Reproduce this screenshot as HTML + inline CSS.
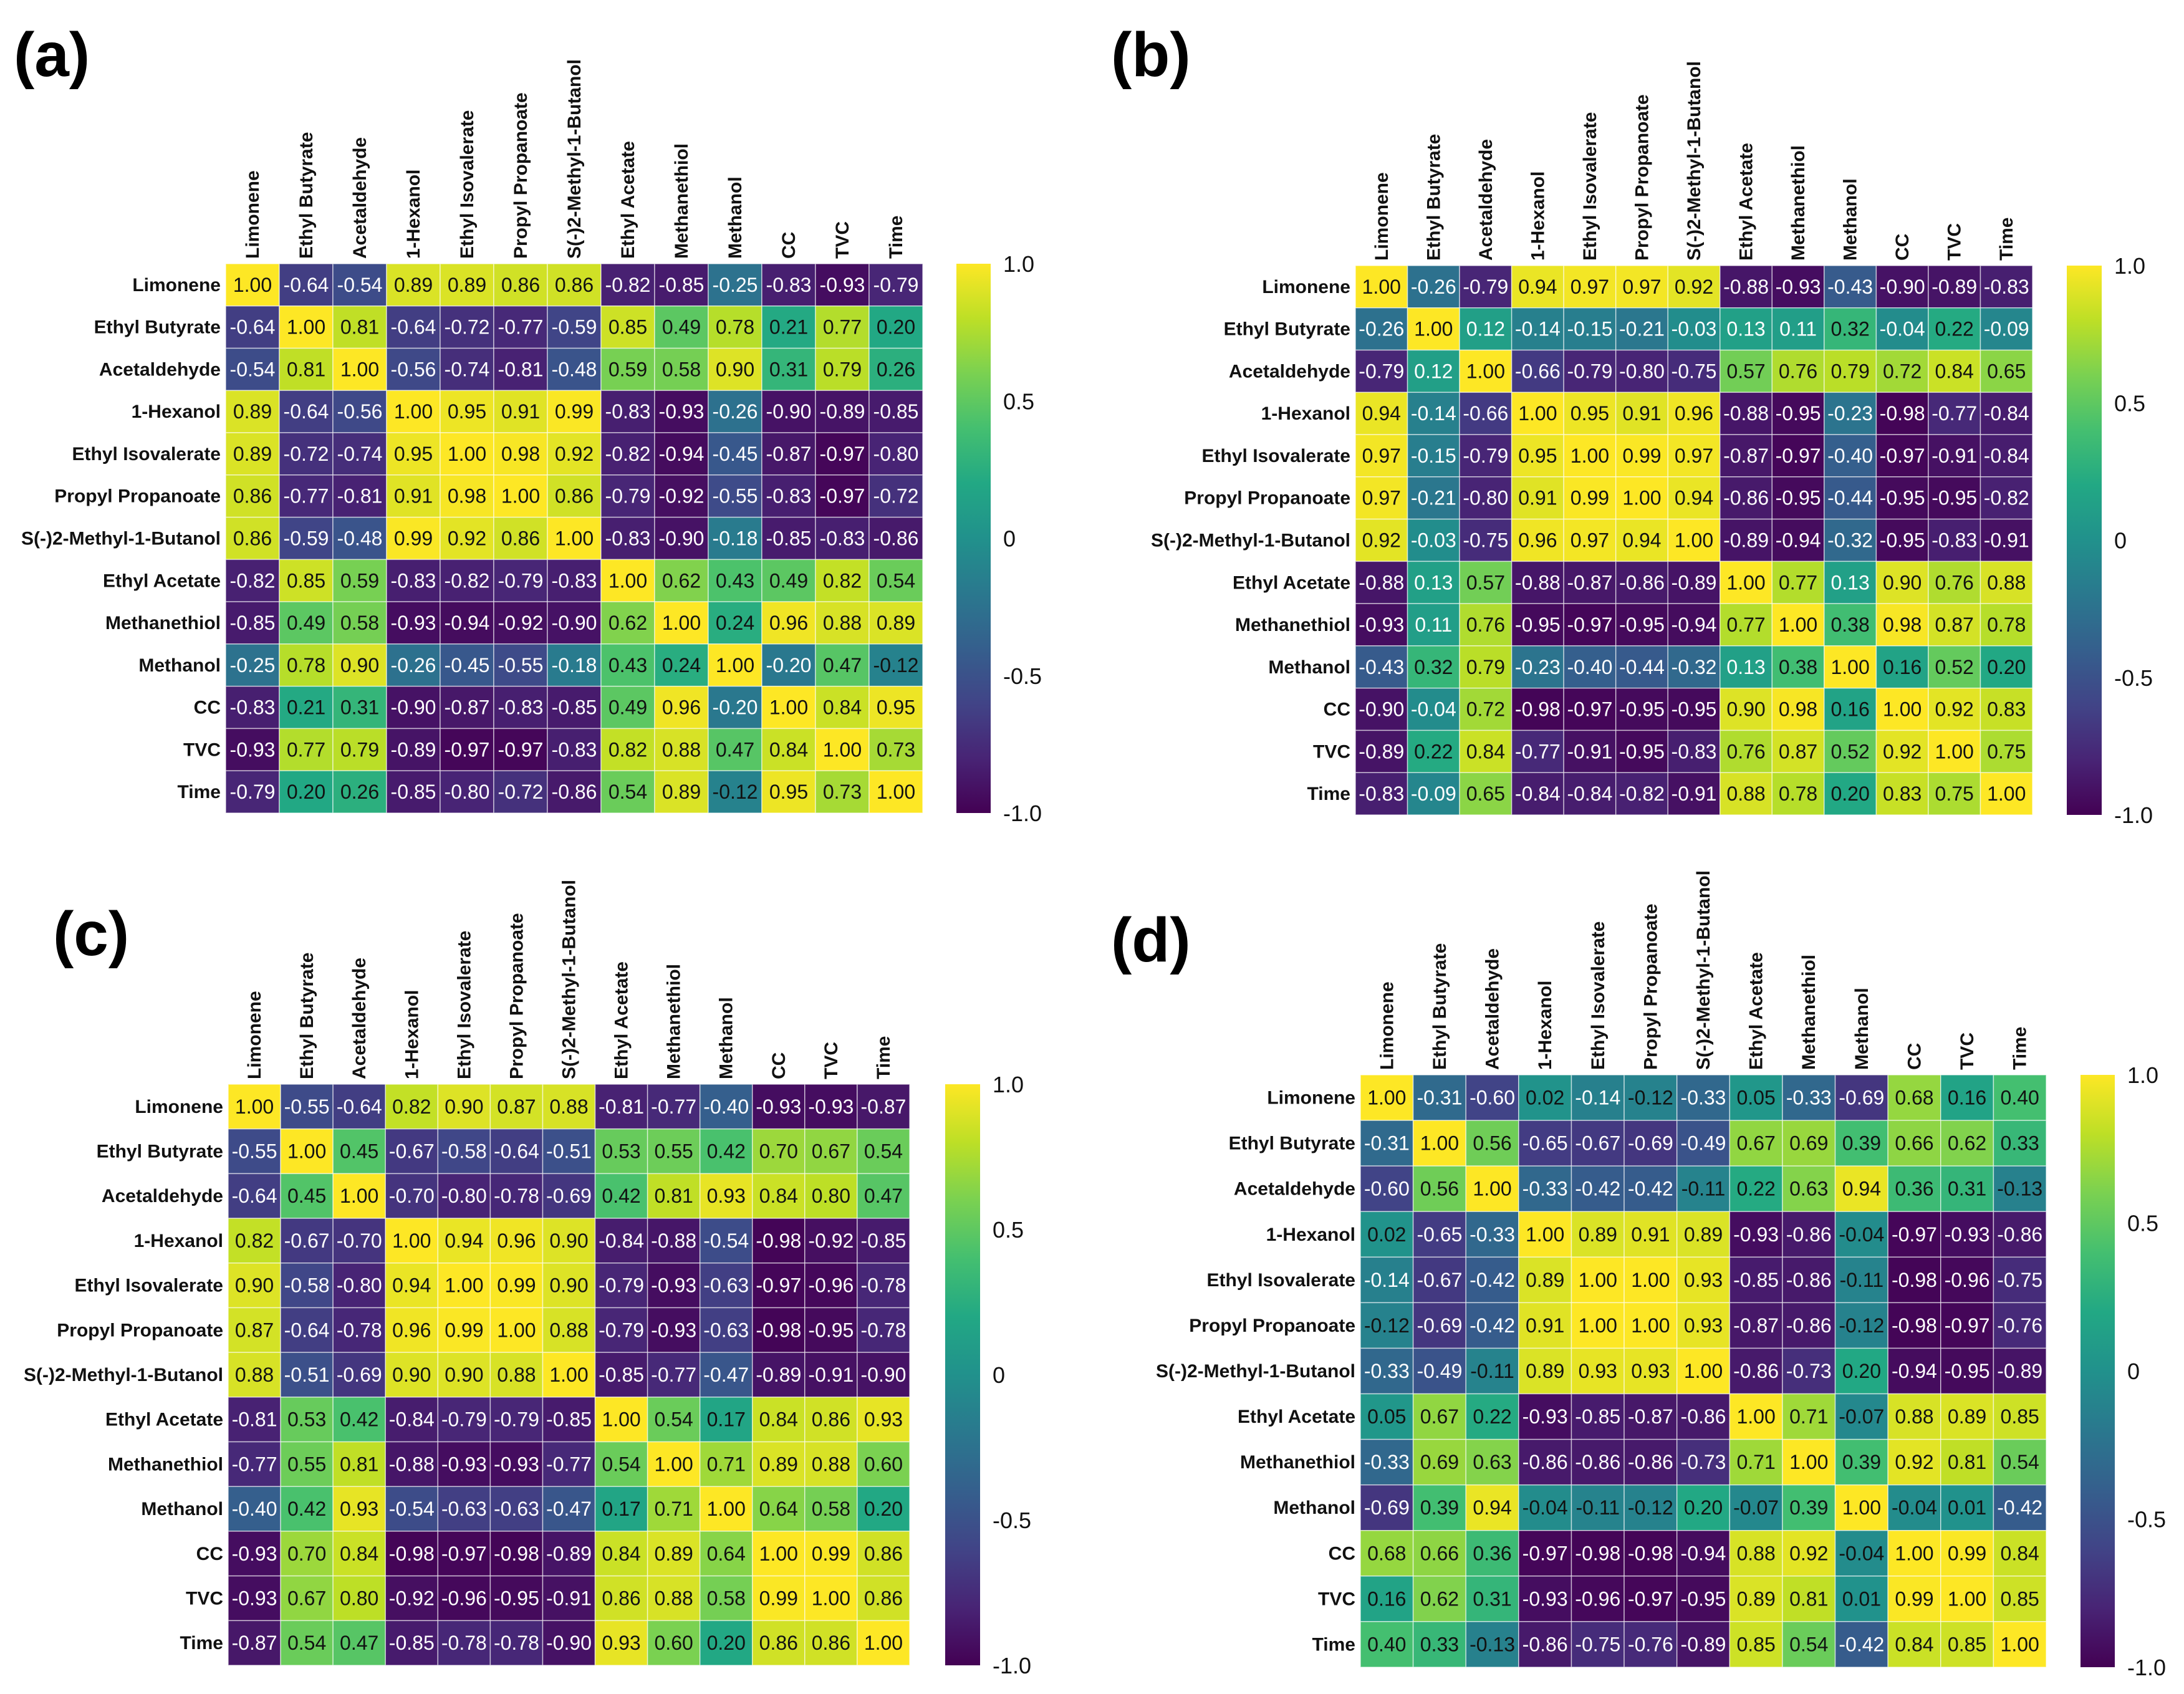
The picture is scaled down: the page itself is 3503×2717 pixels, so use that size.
<!DOCTYPE html>
<html><head><meta charset="utf-8"><style>
html,body{margin:0;padding:0;background:#fff;}
svg{display:block;}
text{font-family:"Liberation Sans",Arial,sans-serif;}
</style></head><body>
<svg id="fig" xmlns="http://www.w3.org/2000/svg" width="3503" height="2717" viewBox="0 0 3503 2717">
<defs>
<linearGradient id="viridis" x1="0" y1="1" x2="0" y2="0">
<stop offset="0" stop-color="#440154"/><stop offset="0.1" stop-color="#482475"/><stop offset="0.2" stop-color="#414487"/><stop offset="0.3" stop-color="#355f8d"/><stop offset="0.4" stop-color="#2a788e"/><stop offset="0.5" stop-color="#21918c"/><stop offset="0.6" stop-color="#22a884"/><stop offset="0.7" stop-color="#44bf70"/><stop offset="0.8" stop-color="#7ad151"/><stop offset="0.9" stop-color="#bddf26"/><stop offset="1" stop-color="#fde725"/>
</linearGradient>
</defs>
</svg>
<script>
const variables = ["Limonene","Ethyl Butyrate","Acetaldehyde","1-Hexanol","Ethyl Isovalerate","Propyl Propanoate","S(-)2-Methyl-1-Butanol","Ethyl Acetate","Methanethiol","Methanol","CC","TVC","Time"];
const colorbarTicks = [1.0, 0.5, 0, -0.5, -1.0];
const colorbarTickLabels = ["1.0","0.5","0","-0.5","-1.0"];
const panelLetters = ["(a)","(b)","(c)","(d)"];

const matrixA = [
[1.00,-0.64,-0.54,0.89,0.89,0.86,0.86,-0.82,-0.85,-0.25,-0.83,-0.93,-0.79],
[-0.64,1.00,0.81,-0.64,-0.72,-0.77,-0.59,0.85,0.49,0.78,0.21,0.77,0.20],
[-0.54,0.81,1.00,-0.56,-0.74,-0.81,-0.48,0.59,0.58,0.90,0.31,0.79,0.26],
[0.89,-0.64,-0.56,1.00,0.95,0.91,0.99,-0.83,-0.93,-0.26,-0.90,-0.89,-0.85],
[0.89,-0.72,-0.74,0.95,1.00,0.98,0.92,-0.82,-0.94,-0.45,-0.87,-0.97,-0.80],
[0.86,-0.77,-0.81,0.91,0.98,1.00,0.86,-0.79,-0.92,-0.55,-0.83,-0.97,-0.72],
[0.86,-0.59,-0.48,0.99,0.92,0.86,1.00,-0.83,-0.90,-0.18,-0.85,-0.83,-0.86],
[-0.82,0.85,0.59,-0.83,-0.82,-0.79,-0.83,1.00,0.62,0.43,0.49,0.82,0.54],
[-0.85,0.49,0.58,-0.93,-0.94,-0.92,-0.90,0.62,1.00,0.24,0.96,0.88,0.89],
[-0.25,0.78,0.90,-0.26,-0.45,-0.55,-0.18,0.43,0.24,1.00,-0.20,0.47,-0.12],
[-0.83,0.21,0.31,-0.90,-0.87,-0.83,-0.85,0.49,0.96,-0.20,1.00,0.84,0.95],
[-0.93,0.77,0.79,-0.89,-0.97,-0.97,-0.83,0.82,0.88,0.47,0.84,1.00,0.73],
[-0.79,0.20,0.26,-0.85,-0.80,-0.72,-0.86,0.54,0.89,-0.12,0.95,0.73,1.00]];
const matrixB = [
[1.00,-0.26,-0.79,0.94,0.97,0.97,0.92,-0.88,-0.93,-0.43,-0.90,-0.89,-0.83],
[-0.26,1.00,0.12,-0.14,-0.15,-0.21,-0.03,0.13,0.11,0.32,-0.04,0.22,-0.09],
[-0.79,0.12,1.00,-0.66,-0.79,-0.80,-0.75,0.57,0.76,0.79,0.72,0.84,0.65],
[0.94,-0.14,-0.66,1.00,0.95,0.91,0.96,-0.88,-0.95,-0.23,-0.98,-0.77,-0.84],
[0.97,-0.15,-0.79,0.95,1.00,0.99,0.97,-0.87,-0.97,-0.40,-0.97,-0.91,-0.84],
[0.97,-0.21,-0.80,0.91,0.99,1.00,0.94,-0.86,-0.95,-0.44,-0.95,-0.95,-0.82],
[0.92,-0.03,-0.75,0.96,0.97,0.94,1.00,-0.89,-0.94,-0.32,-0.95,-0.83,-0.91],
[-0.88,0.13,0.57,-0.88,-0.87,-0.86,-0.89,1.00,0.77,0.13,0.90,0.76,0.88],
[-0.93,0.11,0.76,-0.95,-0.97,-0.95,-0.94,0.77,1.00,0.38,0.98,0.87,0.78],
[-0.43,0.32,0.79,-0.23,-0.40,-0.44,-0.32,0.13,0.38,1.00,0.16,0.52,0.20],
[-0.90,-0.04,0.72,-0.98,-0.97,-0.95,-0.95,0.90,0.98,0.16,1.00,0.92,0.83],
[-0.89,0.22,0.84,-0.77,-0.91,-0.95,-0.83,0.76,0.87,0.52,0.92,1.00,0.75],
[-0.83,-0.09,0.65,-0.84,-0.84,-0.82,-0.91,0.88,0.78,0.20,0.83,0.75,1.00]];
const matrixC = [
[1.00,-0.55,-0.64,0.82,0.90,0.87,0.88,-0.81,-0.77,-0.40,-0.93,-0.93,-0.87],
[-0.55,1.00,0.45,-0.67,-0.58,-0.64,-0.51,0.53,0.55,0.42,0.70,0.67,0.54],
[-0.64,0.45,1.00,-0.70,-0.80,-0.78,-0.69,0.42,0.81,0.93,0.84,0.80,0.47],
[0.82,-0.67,-0.70,1.00,0.94,0.96,0.90,-0.84,-0.88,-0.54,-0.98,-0.92,-0.85],
[0.90,-0.58,-0.80,0.94,1.00,0.99,0.90,-0.79,-0.93,-0.63,-0.97,-0.96,-0.78],
[0.87,-0.64,-0.78,0.96,0.99,1.00,0.88,-0.79,-0.93,-0.63,-0.98,-0.95,-0.78],
[0.88,-0.51,-0.69,0.90,0.90,0.88,1.00,-0.85,-0.77,-0.47,-0.89,-0.91,-0.90],
[-0.81,0.53,0.42,-0.84,-0.79,-0.79,-0.85,1.00,0.54,0.17,0.84,0.86,0.93],
[-0.77,0.55,0.81,-0.88,-0.93,-0.93,-0.77,0.54,1.00,0.71,0.89,0.88,0.60],
[-0.40,0.42,0.93,-0.54,-0.63,-0.63,-0.47,0.17,0.71,1.00,0.64,0.58,0.20],
[-0.93,0.70,0.84,-0.98,-0.97,-0.98,-0.89,0.84,0.89,0.64,1.00,0.99,0.86],
[-0.93,0.67,0.80,-0.92,-0.96,-0.95,-0.91,0.86,0.88,0.58,0.99,1.00,0.86],
[-0.87,0.54,0.47,-0.85,-0.78,-0.78,-0.90,0.93,0.60,0.20,0.86,0.86,1.00]];
const matrixD = [
[1.00,-0.31,-0.60,0.02,-0.14,-0.12,-0.33,0.05,-0.33,-0.69,0.68,0.16,0.40],
[-0.31,1.00,0.56,-0.65,-0.67,-0.69,-0.49,0.67,0.69,0.39,0.66,0.62,0.33],
[-0.60,0.56,1.00,-0.33,-0.42,-0.42,-0.11,0.22,0.63,0.94,0.36,0.31,-0.13],
[0.02,-0.65,-0.33,1.00,0.89,0.91,0.89,-0.93,-0.86,-0.04,-0.97,-0.93,-0.86],
[-0.14,-0.67,-0.42,0.89,1.00,1.00,0.93,-0.85,-0.86,-0.11,-0.98,-0.96,-0.75],
[-0.12,-0.69,-0.42,0.91,1.00,1.00,0.93,-0.87,-0.86,-0.12,-0.98,-0.97,-0.76],
[-0.33,-0.49,-0.11,0.89,0.93,0.93,1.00,-0.86,-0.73,0.20,-0.94,-0.95,-0.89],
[0.05,0.67,0.22,-0.93,-0.85,-0.87,-0.86,1.00,0.71,-0.07,0.88,0.89,0.85],
[-0.33,0.69,0.63,-0.86,-0.86,-0.86,-0.73,0.71,1.00,0.39,0.92,0.81,0.54],
[-0.69,0.39,0.94,-0.04,-0.11,-0.12,0.20,-0.07,0.39,1.00,-0.04,0.01,-0.42],
[0.68,0.66,0.36,-0.97,-0.98,-0.98,-0.94,0.88,0.92,-0.04,1.00,0.99,0.84],
[0.16,0.62,0.31,-0.93,-0.96,-0.97,-0.95,0.89,0.81,0.01,0.99,1.00,0.85],
[0.40,0.33,-0.13,-0.86,-0.75,-0.76,-0.89,0.85,0.54,-0.42,0.84,0.85,1.00]];

const matrices = [matrixA, matrixB, matrixC, matrixD];
const textThresholds = [-0.15, 0.15, 0.0, -0.135];

// layout (not data)
const layouts = [
  {l:362, t:423, r:1480, b:1304, cb0:1534, cb1:1589, lx:22, ly:122},
  {l:2174,t:426, r:3260, b:1307, cb0:3315, cb1:3371, lx:1782, ly:122},
  {l:366, t:1739,r:1459, b:2671, cb0:1516, cb1:1572, lx:85, ly:1532},
  {l:2182,t:1724,r:3282, b:2674, cb0:3337, cb1:3392, lx:1782, ly:1542}
];

const VIR = ["#440154","#482475","#414487","#355f8d","#2a788e","#21918c","#22a884","#44bf70","#7ad151","#bddf26","#fde725"];
function hex(h){return [parseInt(h.slice(1,3),16),parseInt(h.slice(3,5),16),parseInt(h.slice(5,7),16)];}
function viridis(v){
  let t=Math.max(0,Math.min(1,(v+1)/2))*10;
  let i=Math.min(9,Math.floor(t)), f=t-i;
  const a=hex(VIR[i]), b=hex(VIR[i+1]);
  return "rgb("+a.map((c,k)=>Math.round(c+(b[k]-c)*f)).join(",")+")";
}
const NS="http://www.w3.org/2000/svg";
const svg=document.getElementById("fig");
function mk(tag,attrs,parent){const e=document.createElementNS(NS,tag);for(const k in attrs)e.setAttribute(k,attrs[k]);(parent||svg).appendChild(e);return e;}

matrices.forEach((M,p)=>{
  const L=layouts[p], n=variables.length;
  const cw=(L.r-L.l)/n, ch=(L.b-L.t)/n;
  const xPos=j=>L.l+j*cw, yPos=i=>L.t+i*ch;
  const g=mk("g",{});
  
  
  const lt=mk("text",{x:L.lx,y:L.ly,"font-size":100,"font-weight":"bold",fill:"#000"},g);
  lt.textContent=panelLetters[p];
  
  
  for(let i=0;i<n;i++){
    const rl=mk("text",{x:L.l-8,y:yPos(i)+ch/2+10,"font-size":30,"font-weight":"bold","text-anchor":"end",fill:"#111"},g);
    rl.textContent=variables[i];
    
    
    const cx=xPos(i)+cw/2+10, cy=L.t-8;
    const cl=mk("text",{x:cx,y:cy,"font-size":30,"font-weight":"bold",fill:"#111",transform:"rotate(-90 "+cx+" "+cy+")"},g);
    cl.textContent=variables[i];
    
    
    for(let j=0;j<n;j++){
      const v=M[i][j];
      const r=mk("rect",{x:xPos(j),y:yPos(i),width:cw,height:ch,fill:viridis(v),stroke:"rgba(255,255,255,0.6)","stroke-width":1.5},g);
      
      
      const tx=mk("text",{x:xPos(j)+cw/2,y:yPos(i)+ch/2+11,"font-size":32,"text-anchor":"middle",fill:(v>textThresholds[p]?"#111":"#fff")},g);
      tx.textContent=v.toFixed(2);
      
      
    }
  }
  const cb=mk("rect",{x:L.cb0,y:L.t,width:L.cb1-L.cb0,height:L.b-L.t,fill:"url(#viridis)"},g);
  
  
  const cy=v=>L.b-(v+1)/2*(L.b-L.t);
  colorbarTicks.forEach((tv,k)=>{
    const t=mk("text",{x:L.cb1+20,y:cy(tv)+13,"font-size":36,fill:"#111"},g);
    t.textContent=colorbarTickLabels[k];
    
    
  });
});
</script>
</body></html>
